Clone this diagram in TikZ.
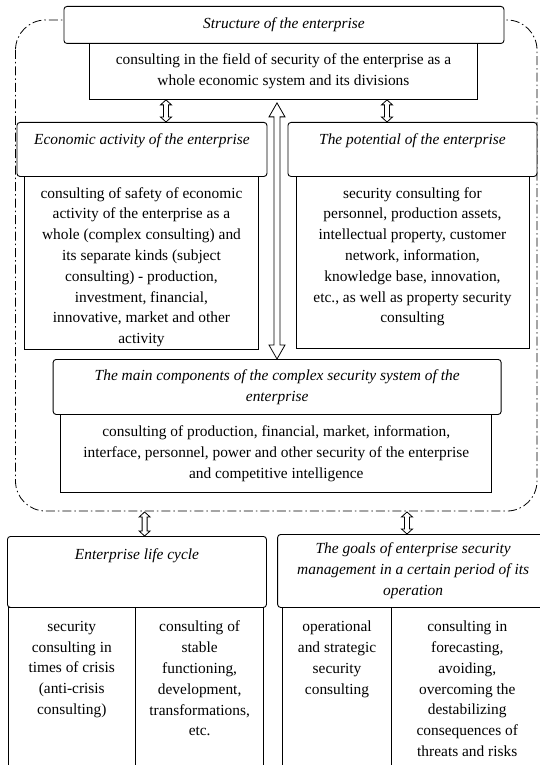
\documentclass[tikz,border=0pt]{standalone}
\usepackage{fontspec}
\setmainfont{Liberation Serif}
\usetikzlibrary{calc}
\newcommand\bodyfont{\fontsize{15.4}{20.8}\selectfont}
% hollow double-headed vertical arrow: #1 upper tip, #2 lower tip,
% #3 half shaft width, #4 half head width, #5 head length
\newcommand\hollowtwoway[5]{%
  \draw[twoway] let \p1=#1, \p2=#2 in
    (\x1,\y1) -- (\x1+#4,\y1-#5) -- (\x1+#3,\y1-#5) -- (\x1+#3,\y2+#5)
    -- (\x1+#4,\y2+#5) -- (\x1,\y2) -- (\x1-#4,\y2+#5) -- (\x1-#3,\y2+#5)
    -- (\x1-#3,\y1-#5) -- (\x1-#4,\y1-#5) -- cycle;}
\begin{document}
\begin{tikzpicture}[x=1pt,y=-1pt,
  hdr/.style={draw, fill=white, rounded corners=3pt, line width=0.9pt, anchor=north west, inner sep=0pt},
  body/.style={draw, fill=white, line width=0.9pt, anchor=north west, inner sep=0pt},
  lbl/.style={font=\bodyfont, align=center, inner sep=0pt, anchor=north},
  grp/.style={line width=0.8pt, rounded corners=30pt, dash pattern=on 9pt off 3pt on 1.5pt off 3pt},
  twoway/.style={draw, fill=white, line width=0.8pt, line join=miter}]
\useasboundingbox (0,0) rectangle (540,765);
\fill[white] (0,0) rectangle (540,765);
\clip (0,0) rectangle (540,765);

% dash-dotted group frame
\draw[grp] (15.5,20) rectangle (537,511);

% structure of the enterprise
\node[hdr, font=\bodyfont\itshape, minimum width=440pt, minimum height=37pt] (struct) at (63.5,6) {Structure of the enterprise};
\node[body, font=\bodyfont, align=center, minimum width=388pt, minimum height=56pt] (structB) at (89,43)
  {consulting in the field of security of the enterprise as a\\whole economic system and its divisions};

% economic activity
\node[hdr, minimum width=250pt, minimum height=54pt] (econH) at (16.5,122) {};
\node[lbl, font=\bodyfont\itshape] (econT) at ($(econH.north)+(0,11.3)$) {Economic activity of the enterprise};
\node[body, minimum width=234pt, minimum height=173pt] (econB) at (24,176) {};
\node[lbl] (econBT) at ($(econB.north)+(0,11)$)
  {consulting of safety of economic\\activity of the enterprise as a\\whole (complex consulting) and\\its separate kinds (subject\\consulting) - production,\\investment, financial,\\innovative, market and other\\activity};

% potential
\node[hdr, minimum width=249pt, minimum height=54pt] (potH) at (287.5,122) {};
\node[lbl, font=\bodyfont\itshape] (potT) at ($(potH.north)+(0,11.3)$) {The potential of the enterprise};
\node[body, minimum width=233pt, minimum height=172pt] (potB) at (295.5,176) {};
\node[lbl] (potBT) at ($(potB.north)+(0,11)$)
  {security consulting for\\personnel, production assets,\\intellectual property, customer\\network, information,\\knowledge base, innovation,\\etc., as well as property security\\consulting};

% main components
\node[hdr, font=\bodyfont\itshape, align=center, minimum width=448pt, minimum height=55pt] (mainH) at (52.7,359)
  {The main components of the complex security system of the\\enterprise};
\node[body, font=\bodyfont, align=center, minimum width=431pt, minimum height=78pt] (mainB) at (60.3,414)
  {consulting of production, financial, market, information,\\interface, personnel, power and other security of the enterprise\\and competitive intelligence};

% life cycle
\node[hdr, minimum width=259pt, minimum height=71pt] (lifeH) at (7,536) {};
\node[lbl, font=\bodyfont\itshape] (lifeT) at ($(lifeH.north)+(0,12.8)$) {Enterprise life cycle};
\node[body, minimum width=127.4pt, minimum height=170pt] (lifeL) at (7.6,607) {};
\node[body, minimum width=128.4pt, minimum height=170pt] (lifeR) at (135,607) {};
\node[lbl] (lifeLT) at ($(lifeL.north)+(0,13.8)$) {security\\consulting in\\times of crisis\\(anti-crisis\\consulting)};
\node[lbl] (lifeRT) at ($(lifeR.north)+(0,13.8)$) {consulting of\\stable\\functioning,\\development,\\transformations,\\etc.};

% goals
\node[hdr, font=\bodyfont\itshape, align=center, minimum width=271pt, minimum height=73pt] (goalH) at (277.2,534)
  {The goals of enterprise security\\management in a certain period of its\\operation};
\node[body, minimum width=108.4pt, minimum height=170pt] (goalL) at (282.4,607) {};
\node[body, minimum width=152pt, minimum height=170pt] (goalR) at (390.8,607) {};
\node[lbl] (goalLT) at ($(goalL.north)+(0,13.8)$) {operational\\and strategic\\security\\consulting};
\node[lbl] (goalRT) at ($(goalR.north)+(0,13.8)$) {consulting in\\forecasting,\\avoiding,\\overcoming the\\destabilizing\\consequences of\\threats and risks};

% arrow columns
\coordinate (colA) at (166,0);
\coordinate (colB) at (387,0);
\coordinate (colC) at (277,0);
\coordinate (colD) at (144.6,0);
\coordinate (colE) at (407,0);
\coordinate (grpBottom) at (0,512);

\hollowtwoway{(colA |- structB.south)}{(colA |- econH.north)}{2.5pt}{5.5pt}{5pt}
\hollowtwoway{(colB |- structB.south)}{(colB |- potH.north)}{2.5pt}{5.5pt}{5pt}
\hollowtwoway{($(colC |- structB.south)+(0,3)$)}{(colC |- mainH.north)}{3pt}{8pt}{14pt}
\hollowtwoway{(colD |- grpBottom)}{(colD |- lifeH.north)}{2.5pt}{5.5pt}{5pt}
\hollowtwoway{(colE |- grpBottom)}{(colE |- goalH.north)}{2.5pt}{5.5pt}{5pt}
\end{tikzpicture}
\end{document}
